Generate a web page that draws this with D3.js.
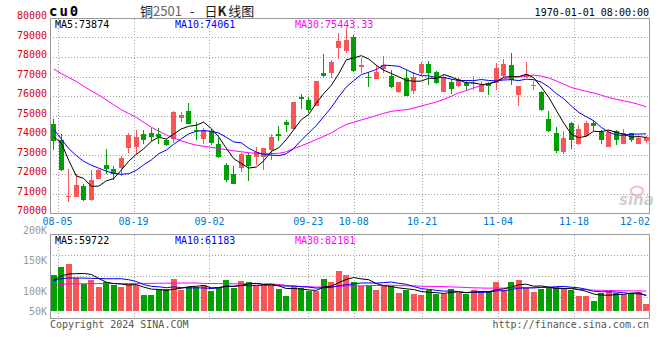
<!DOCTYPE html>
<html><head><meta charset="utf-8">
<script src="https://cdn.jsdelivr.net/npm/d3@7"></script>
<style>
body{margin:0;background:#fff}
svg{display:block}
text{font-family:"DejaVu Sans Mono",monospace;font-size:10px}
</style>
</head><body><svg id="c" width="660" height="360"></svg>
<script>
const dates = ["08-02","08-05","08-06","08-07","08-08","08-09","08-12","08-13","08-14","08-15","08-16","08-19","08-20","08-21","08-22","08-23","08-26","08-27","08-28","08-29","08-30",
"09-02","09-03","09-04","09-05","09-06","09-09","09-10","09-11","09-12","09-13","09-18","09-19","09-20","09-23","09-24","09-25","09-26","09-27","09-30",
"10-08","10-09","10-10","10-11","10-14","10-15","10-16","10-17","10-18","10-21","10-22","10-23","10-24","10-25","10-28","10-29","10-30","10-31",
"11-01","11-04","11-05","11-06","11-07","11-08","11-11","11-12","11-13","11-14","11-15","11-18","11-19","11-20","11-21","11-22","11-25","11-26","11-27","11-28","11-29",
"12-02"];

const openP = [74540,73720,70800,70830,71410,70680,71750,72450,72240,72290,
73340,73380,74060,74090,74060,73740,73800,74870,75250,74280,
73800,74230,73520,72450,71990,72290,73000,72870,72870,73210,
74030,74650,74330,75930,75810,75470,77200,77200,78470,78320,
79000,77510,76950,76860,77390,77030,76200,76910,76270,77170,
77620,77220,76220,76740,76490,76660,76620,76230,76660,76660,
77030,77590,76030,77000,76500,76180,74840,74080,73130,74620,
73550,73940,74590,74160,73380,74190,73550,74080,73550,73690];
const highP = [74840,74030,72240,71990,71480,72210,72280,73260,72430,72920,
74080,74250,74280,74360,74360,73800,75250,75160,75620,74670,
74360,74310,73860,72550,72410,73090,73090,73400,73350,74030,
74480,74790,75700,76110,75930,76790,78150,77850,79250,79490,
79120,77960,77250,77590,78050,77340,76740,77340,77250,77760,
77790,77300,77080,76860,76910,76790,77030,76790,76700,77710,
77900,78220,76520,77760,76770,76270,75210,74420,74230,74650,
74530,74740,74790,74280,74250,74280,74330,74110,73940,73940];
const lowP = [73230,72160,70580,70800,70630,70630,71750,72020,71680,71880,
73090,73040,73550,73670,73550,73430,73600,74650,74570,73720,
73550,73480,72840,71600,71500,72120,71650,72450,72210,72730,
73690,74160,74250,75350,75110,75470,77000,76910,77880,78180,
77250,77200,76450,76860,77170,76400,76150,75980,76100,77030,
76570,76620,76220,76110,76440,76320,76320,76230,76060,76320,
76910,76570,75500,76910,76320,75210,74140,73090,73010,73260,
73480,73910,74230,73520,73380,73480,73520,73650,73550,73600];
const closeP = [73690,72190,70880,71430,70680,71680,72210,72240,72020,72840,
73990,73920,73720,73890,73920,73500,75200,75040,74570,74200,
74280,73570,72870,71700,71510,73040,72410,73120,73310,73900,
73970,74520,75670,75840,75300,76790,77030,77760,78830,78860,
77300,77590,76910,77220,77590,76470,76740,75980,77000,77640,
77200,76670,77000,76370,76860,76490,76660,76570,76490,77460,
77640,76830,76520,77120,76570,75260,74190,73180,73860,73740,
74330,74590,74450,73740,74160,73740,74110,73740,73860,73890];

const ma5 = [73900,73600,72700,71900,71774,71372,71376,71648,71766,72198,
72660,73002,73298,73672,73888,73790,74046,74310,74446,74502,
74658,74332,73898,73324,72786,72538,72306,72356,72678,73156,
73342,73764,74274,74780,75060,75624,76126,76544,77142,77854,
77956,78068,77898,77576,77322,77156,76986,76800,76756,76766,
76912,76898,77102,76976,76820,76678,76676,76590,76614,76734,
76964,76998,76988,77114,76936,76460,75932,75264,74612,74046,
73860,73940,74194,74170,74254,74136,74040,73898,73922,73874];
const ma10 = [74280,73800,73300,72950,72650,72450,72300,72150,72030,71986,
72016,72189,72473,72719,73043,73225,73524,73804,74059,74195,
74224,74189,74104,73885,73644,73598,73319,73127,73001,72971,
72940,73035,73315,73729,74108,74483,74945,75409,75961,76457,
76790,77097,77221,77359,77588,77556,77527,77349,77166,77044,
77034,76942,76951,76866,76793,76795,76787,76846,76795,76777,
76821,76837,76789,76864,76835,76712,76465,76126,75863,75491,
75160,74936,74729,74391,74150,73998,73990,74046,74046,74061];
const ma30 = [77380,77150,76950,76750,76500,76270,76050,75800,75550,75300,
75100,74900,74650,74400,74200,74000,73850,73700,73580,73480,
73420,73370,73310,73250,73190,73140,73090,73060,73040,73051,
73060,73138,73297,73444,73598,73769,73929,74113,74340,74541,
74651,74774,74880,74991,75113,75212,75264,75295,75376,75491,
75588,75691,75829,75985,76163,76278,76420,76535,76641,76759,
76882,76959,76987,77030,77072,77021,76926,76774,76608,76437,
76338,76238,76156,76040,75926,75835,75747,75673,75568,75443.33];

const volume = [166500,206400,223400,151900,116800,141000,103500,128900,115600,103500,
116800,115600,63500,63500,95000,91400,145900,90100,103500,103500,
114400,84100,97400,139800,99800,135000,128900,108300,108300,108300,
93800,58600,108300,97400,82900,82900,144700,131300,187100,165200,
131300,110700,110700,87700,110700,110700,74400,87700,67100,62300,
87700,67100,67100,93800,74400,67100,87700,79200,82900,131300,
87700,131300,139800,99800,79200,93800,99800,104700,99800,87700,
57400,57400,33200,74400,82900,74400,62300,67100,79200,16200];
const volMa5 = [140000,160000,170000,172000,173000,167900,147300,128400,121200,118500,
113700,116100,103000,92600,90900,85800,91900,97200,105200,106900,
111500,99100,100600,107800,107100,111200,120200,122400,116100,117800,
109500,95500,95500,93300,88200,86000,103200,107800,125800,142200,
151900,145100,141000,121100,110200,106100,98800,94200,90100,80400,
75800,74400,70300,75600,78000,73900,78000,80400,78300,89600,
93800,102500,114600,118000,107600,108800,102500,95500,95500,97200,
89900,81400,67100,62000,61100,64500,65400,72200,73200,59722];
const volMa10 = [136000,146000,150000,150000,149000,148000,147000,146000,146000,145800,
140800,131700,115700,106900,104700,99700,104000,100100,98900,98900,
98600,95500,98900,106500,107000,111400,109700,111500,112000,112400,
110400,107800,108900,104700,103000,97800,99400,101700,109500,115200,
119000,124200,124400,123500,126200,129000,122000,117600,105600,95300,
91000,86600,82300,82900,79200,74900,76200,75400,76900,83800,
83800,90300,97500,98100,98600,101300,102500,105000,106700,102400,
99300,91900,81300,78700,79100,77200,73400,69700,67600,61183];
const volMa30 = [108000,117000,120000,120000,120000,120000,121000,121000,121000,121000,
121000,122000,122000,122000,123000,123000,123000,124000,124000,124000,
122000,121000,121000,121000,120000,120000,120000,120000,119000,119000,
116600,111700,107800,106000,104900,102950,104300,104400,106800,108800,
109300,109200,110700,111500,112100,112700,110300,110200,109000,107700,
106800,106200,105200,103700,102800,100600,99200,98200,97400,98100,
97900,100300,101400,101500,101400,101700,100200,99300,96400,93800,
91400,89600,87000,86600,85600,84400,84000,83300,83750,82181];

const priceTicks = [70000,71000,72000,73000,74000,75000,76000,77000,78000,79000,80000];
const dateTicks = ["08-05","08-19","09-02","09-23","10-08","10-21","11-04","11-18","12-02"];
const volTickValues = [200000,150000,100000,50000];
const volTickLabels = ["200K","150K","100K","50K"];

const RED = "#f85656", GREEN = "#00a000";
const svg = d3.select("#c");
const X0 = 50, X1 = 650;
const xb = d3.scaleBand().domain(dates).range([X0, X1]);
const xp = d3.scalePoint().domain(dates).range([X0, X1]);
const tickX = d => xp(d);
const y = d3.scaleLinear().domain([70000, 80000]).range([213, 18]);
const vy = d3.scaleLinear().domain([-20000, 376000]).range([311, 234]);
const vLabelY = d3.scaleLinear().domain(volTickValues).range([230.5, 260.5, 291, 311]);
const cx = i => xb(dates[i]) + xb.bandwidth() / 2;

const data = dates.map((d, i) => ({d, i, o: openP[i], h: highP[i], l: lowP[i], c: closeP[i], v: volume[i]}));
const col = p => p.c >= p.o ? RED : GREEN;

// grids
const g = svg.append("g").attr("shape-rendering", "crispEdges");
g.selectAll(".hg").data(priceTicks.slice(1, -1)).enter().append("line")
  .attr("x1", X0).attr("x2", X1 - 1).attr("y1", v => Math.round(y(v)) + 0.5).attr("y2", v => Math.round(y(v)) + 0.5)
  .attr("stroke", "#a0a0a0").attr("stroke-dasharray", "1,2");
const vGridY = [255, 276, 297];
g.selectAll(".vhg").data(vGridY).enter().append("line")
  .attr("x1", X0).attr("x2", X1 - 1).attr("y1", v => v + 0.5).attr("y2", v => v + 0.5)
  .attr("stroke", "#a0a0a0").attr("stroke-dasharray", "1,2");
dateTicks.slice(0, -1).forEach(d => {
  const xx = Math.round(tickX(d)) + 0.5;
  g.append("line").attr("x1", xx).attr("x2", xx).attr("y1", 19).attr("y2", 213).attr("stroke", "#a0a0a0").attr("stroke-dasharray", "1,2");
  g.append("line").attr("x1", xx).attr("x2", xx).attr("y1", 235).attr("y2", 318).attr("stroke", "#a0a0a0").attr("stroke-dasharray", "1,2");
});

// volume bars
const vb = svg.append("g").attr("shape-rendering", "crispEdges");
vb.selectAll("rect").data(data).enter().append("rect")
  .attr("x", p => Math.round(xb(p.d) + 0.75)).attr("width", 6)
  .attr("y", p => Math.round(vy(p.v))).attr("height", p => Math.round(vy(-20000)) - Math.round(vy(p.v)))
  .attr("fill", col);

// candles
const cg = svg.append("g").attr("shape-rendering", "crispEdges");
const candle = cg.selectAll("g").data(data).enter().append("g");
candle.append("line")
  .attr("x1", p => Math.round(xb(p.d)) + 3.5).attr("x2", p => Math.round(xb(p.d)) + 3.5)
  .attr("y1", p => y(p.h)).attr("y2", p => y(p.l)).attr("stroke", col);
candle.append("rect")
  .attr("x", p => Math.round(xb(p.d)) + 1).attr("width", 5)
  .attr("y", p => Math.round(y(Math.max(p.o, p.c))))
  .attr("height", p => Math.max(1, Math.round(y(Math.min(p.o, p.c))) - Math.round(y(Math.max(p.o, p.c)))))
  .attr("fill", col);

// MA lines
const lineP = arr => d3.line().x((v, i) => cx(i)).y(v => y(v))(arr);
const lineV = arr => d3.line().x((v, i) => cx(i)).y(v => vy(v))(arr);
[[ma30, "#ff00ff"], [ma10, "#0000ff"], [ma5, "#000000"]].forEach(([a, c]) =>
  svg.append("path").attr("d", lineP(a)).attr("fill", "none").attr("stroke", c).attr("stroke-width", 1));
[[volMa30, "#ff00ff"], [volMa10, "#0000ff"], [volMa5, "#000000"]].forEach(([a, c]) =>
  svg.append("path").attr("d", lineV(a)).attr("fill", "none").attr("stroke", c).attr("stroke-width", 1));

// frames
const fr = svg.append("g").attr("shape-rendering", "crispEdges").attr("fill", "none").attr("stroke", "#999");
fr.append("rect").attr("x", X0 + 0.5).attr("y", 18.5).attr("width", X1 - X0 - 1).attr("height", 195);
fr.append("rect").attr("x", X0 + 0.5).attr("y", 234.5).attr("width", X1 - X0 - 1).attr("height", 84);

// price axis labels
svg.selectAll(".pl").data(priceTicks).enter().append("text")
  .attr("x", 47).attr("y", v => y(v) - 2.5).attr("dy", "0.35em").attr("text-anchor", "end")
  .attr("fill", "#e00000").text(v => v);
// volume axis labels
svg.selectAll(".vl").data(volTickValues).enter().append("text")
  .attr("x", 47).attr("y", v => vLabelY(v)).attr("dy", "0.35em").attr("text-anchor", "end")
  .attr("fill", "#999").text((v, i) => volTickLabels[i]);
// date labels
svg.selectAll(".dl").data(dateTicks).enter().append("text")
  .attr("x", d => d === "12-02" ? X1 : tickX(d)).attr("y", 221).attr("dy", "0.35em")
  .attr("text-anchor", d => d === "12-02" ? "end" : "middle")
  .attr("fill", "#0078d0").text(d => d);

// legends
const leg = (yy, items) => items.forEach(([t, c], k) =>
  svg.append("text").attr("x", 55 + k * 120).attr("y", yy).attr("dy", "0.35em").attr("fill", c).text(t));
leg(24, [["MA5:73874", "#000"], ["MA10:74061", "#0000ff"], ["MA30:75443.33", "#ff00ff"]]);
leg(240, [["MA5:59722", "#000"], ["MA10:61183", "#0000ff"], ["MA30:82181", "#ff00ff"]]);

// header
svg.append("text").attr("x", 49).attr("y", 16).attr("font-weight", "bold").style("font-size", "14px")
  .attr("letter-spacing", "2px").attr("fill", "#000").text("cu0");
const tt = svg.append("text").attr("x", 140).attr("y", 16).attr("xml:space", "preserve")
  .style("white-space", "pre")
  .style("font-family", "'Noto Sans CJK SC',sans-serif").style("font-size", "13px").attr("fill", "#222");
tt.append("tspan").text("铜");
tt.append("tspan").attr("fill", "#666").text("2501");
tt.append("tspan").attr("dx", 8).text("-");
tt.append("tspan").attr("dx", 10).text("日");
tt.append("tspan").attr("font-weight", "bold").text("K");
tt.append("tspan").attr("dx", 2).text("线图");
svg.append("text").attr("x", 649).attr("y", 12).attr("dy", "0.35em").attr("text-anchor", "end").attr("fill", "#000").text("1970-01-01 08:00:00");

// footer
svg.append("text").attr("x", 50).attr("y", 324).attr("dy", "0.35em").attr("fill", "#555").text("Copyright 2024 SINA.COM");
svg.append("text").attr("x", 649).attr("y", 324).attr("dy", "0.35em").attr("text-anchor", "end").attr("fill", "#555").text("http://finance.sina.com.cn");

// watermark
const wm = svg.append("g").attr("opacity", 0.55);
wm.append("ellipse").attr("cx", 637).attr("cy", 191).attr("rx", 6).attr("ry", 4.5).attr("fill", "none").attr("stroke", "#e88").attr("stroke-width", 2);
wm.append("text").attr("x", 619).attr("y", 205).style("font-family", "'DejaVu Sans',sans-serif").style("font-size", "15px")
  .attr("font-style", "italic").attr("font-weight", "bold").attr("fill", "#aaa").text("sina");
</script>
</body></html>
